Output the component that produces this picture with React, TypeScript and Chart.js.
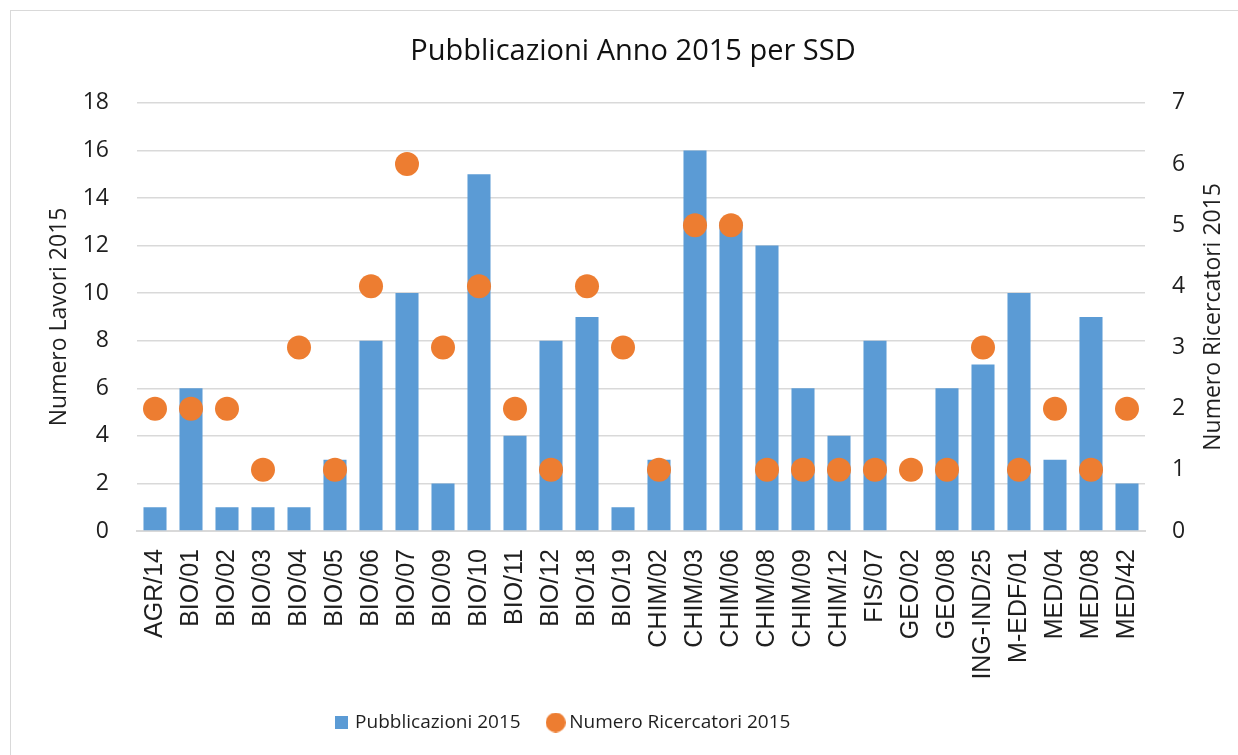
import React, { useEffect, useRef } from "react";
import { Chart, registerables } from "chart.js";

Chart.register(...registerables);

const categories = [
  "AGR/14", "BIO/01", "BIO/02", "BIO/03", "BIO/04", "BIO/05", "BIO/06", "BIO/07",
  "BIO/09", "BIO/10", "BIO/11", "BIO/12", "BIO/18", "BIO/19", "CHIM/02", "CHIM/03",
  "CHIM/06", "CHIM/08", "CHIM/09", "CHIM/12", "FIS/07", "GEO/02", "GEO/08",
  "ING-IND/25", "M-EDF/01", "MED/04", "MED/08", "MED/42",
];
const pubblicazioni = [1, 6, 1, 1, 1, 3, 8, 10, 2, 15, 4, 8, 9, 1, 3, 16, 13, 12, 6, 4, 8, 0, 6, 7, 10, 3, 9, 2];
const ricercatori = [2, 2, 2, 1, 3, 1, 4, 6, 3, 4, 2, 1, 4, 3, 1, 5, 5, 1, 1, 1, 1, 1, 1, 3, 1, 2, 1, 2];

const BLUE = "#5b9bd5";
const ORANGE = "#ed7d31";
const GRID = "#d9d9d9";
const TEXT = "#1f1f1f";
const NUM_FONT = "'Open Sans', 'Noto Sans', sans-serif";
const CAT_FONT = "'Liberation Sans', Arial, sans-serif";

function makeMarker(kind: "rect" | "circle", size: number, color: string) {
  const c = document.createElement("canvas");
  c.width = size;
  c.height = size;
  const ctx = c.getContext("2d")!;
  ctx.fillStyle = color;
  if (kind === "rect") {
    ctx.fillRect(0, 0, size, size);
  } else {
    ctx.beginPath();
    ctx.arc(size / 2, size / 2, size / 2, 0, Math.PI * 2);
    ctx.fill();
  }
  return c;
}

export default function App() {
  const ref = useRef<HTMLCanvasElement | null>(null);

  useEffect(() => {
    if (!ref.current) return;
    const squareImg = makeMarker("rect", 13, BLUE);
    const circleImg = makeMarker("circle", 20, ORANGE);

    const shiftPlugin = {
      id: "shiftBoxes",
      afterLayout(chart: any) {
        const l = chart.legend;
        if (l) {
          l.left -= 55;
          l.right -= 55;
        }
        const t = chart.titleBlock;
        if (t) {
          t.left += 14;
          t.right += 14;
        }
      },
    };

    const rightTitlePlugin = {
      id: "rightTitle",
      afterDraw(chart: any) {
        const ctx = chart.ctx;
        const area = chart.chartArea;
        ctx.save();
        ctx.translate(1213, (area.top + area.bottom) / 2);
        ctx.rotate(-Math.PI / 2);
        ctx.font = `23px ${NUM_FONT}`;
        ctx.fillStyle = TEXT;
        ctx.textAlign = "center";
        ctx.textBaseline = "middle";
        ctx.fillText("Numero Ricercatori 2015", 0, 0);
        ctx.restore();
      },
    };

    const chart = new Chart(ref.current, {
      type: "bar",
      data: {
        labels: categories,
        datasets: [
          {
            type: "line",
            label: "Numero Ricercatori 2015",
            data: ricercatori,
            yAxisID: "y1",
            showLine: false,
            pointRadius: 12,
            pointHoverRadius: 12,
            pointBackgroundColor: ORANGE,
            pointBorderColor: ORANGE,
            pointBorderWidth: 0,
            backgroundColor: ORANGE,
            borderColor: ORANGE,
            order: 0,
          } as any,
          {
            type: "bar",
            label: "Pubblicazioni 2015",
            data: pubblicazioni,
            yAxisID: "y",
            backgroundColor: BLUE,
            borderWidth: 0,
            barPercentage: 0.64,
            categoryPercentage: 1,
            order: 1,
          },
        ],
      },
      options: {
        responsive: false,
        animation: false,
        maintainAspectRatio: false,
        layout: { padding: { left: 0, right: 0, top: 0, bottom: 13 } },
        plugins: {
          tooltip: { enabled: false },
          title: {
            display: true,
            text: "Pubblicazioni Anno 2015 per SSD",
            color: "#111",
            font: { family: NUM_FONT, size: 29, weight: "normal" },
            padding: { top: 34, bottom: 34 },
          },
          legend: {
            display: true,
            position: "bottom",
            labels: {
              color: TEXT,
              font: { family: NUM_FONT, size: 19 },
              usePointStyle: true,
              pointStyleWidth: 8,
              padding: 31,
              generateLabels: () => [
                {
                  text: "Pubblicazioni 2015",
                  pointStyle: squareImg as any,
                  fillStyle: BLUE,
                  strokeStyle: BLUE,
                  lineWidth: 0,
                  hidden: false,
                  datasetIndex: 1,
                  fontColor: TEXT,
                },
                {
                  text: "Numero Ricercatori 2015",
                  pointStyle: circleImg as any,
                  fillStyle: ORANGE,
                  strokeStyle: ORANGE,
                  lineWidth: 0,
                  hidden: false,
                  datasetIndex: 0,
                  fontColor: TEXT,
                },
              ],
            },
          },
        },
        scales: {
          x: {
            grid: { display: false, drawTicks: false },
            border: { display: true, color: GRID, width: 2 },
            ticks: {
              color: TEXT,
              font: { family: CAT_FONT, size: 25 },
              minRotation: 90,
              maxRotation: 90,
              autoSkip: false,
              padding: 18,
            },
            afterFit: (scale: any) => {
              scale.height = 151;
            },
          },
          y: {
            position: "left",
            min: 0,
            max: 18,
            grid: { color: GRID, lineWidth: 1.5, drawTicks: false },
            border: { display: false },
            ticks: {
              stepSize: 2,
              color: TEXT,
              font: { family: NUM_FONT, size: 23 },
              padding: 28,
            },
            title: {
              display: true,
              text: "Numero Lavori 2015",
              color: TEXT,
              font: { family: NUM_FONT, size: 23 },
              padding: { top: 46, bottom: 0 },
            },
            afterFit: (scale: any) => {
              scale.width = 137;
            },
          },
          y1: {
            position: "right",
            min: 0,
            max: 7,
            grid: { display: false, drawTicks: false },
            border: { display: false },
            ticks: {
              stepSize: 1,
              color: TEXT,
              font: { family: NUM_FONT, size: 23 },
              padding: 27,
            },
            afterFit: (scale: any) => {
              scale.width = 93;
            },
          },
        },
      },
      plugins: [shiftPlugin, rightTitlePlugin],
    });
    return () => chart.destroy();
  }, []);

  return (
    <div
      style={{
        position: "fixed",
        left: 0,
        top: 0,
        width: 1238,
        height: 755,
        overflow: "hidden",
        background: "#fff",
      }}
    >
      <div
        style={{
          position: "absolute",
          left: 10,
          top: 10,
          width: 1260,
          height: 800,
          border: "1px solid #d9d9d9",
        }}
      />
      <canvas
        ref={ref}
        width={1238}
        height={755}
        style={{ position: "absolute", left: 0, top: 0, width: 1238, height: 755 }}
      />
    </div>
  );
}
